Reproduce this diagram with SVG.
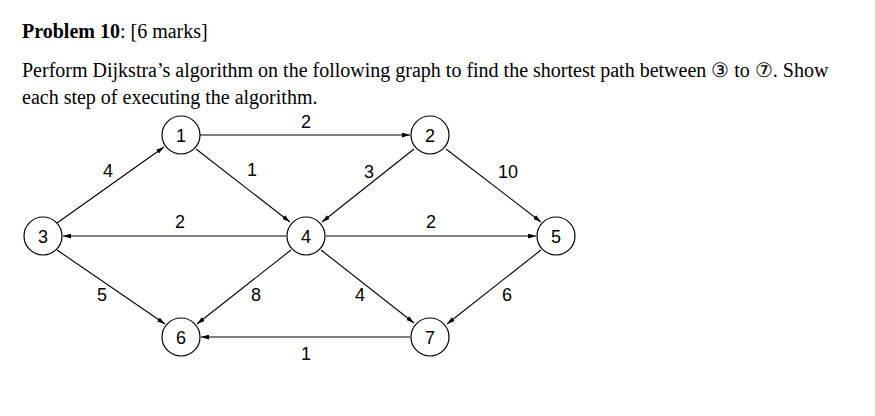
<svg xmlns="http://www.w3.org/2000/svg" width="875" height="416" viewBox="0 0 875 416">
<style>
.t{font-family:"Liberation Serif",serif;font-size:20px;fill:#000}
.n circle{fill:#fff;stroke:#000;stroke-width:1.2}
.n text,.w{font-family:"Liberation Sans",sans-serif;font-size:18px;fill:#000;text-anchor:middle}
.e line{stroke:#000;stroke-width:1.1;marker-end:url(#a)}
</style>
<defs><marker id="a" viewBox="0 0 10 6" refX="10" refY="3" markerWidth="8" markerHeight="5" orient="auto" markerUnits="userSpaceOnUse"><path d="M0,0L10,3L0,6z" fill="#000"/></marker></defs>
<rect width="875" height="416" fill="#fff"/>
<text class="t" x="22" y="38"><tspan font-weight="bold">Problem 10</tspan>: [6 marks]</text>
<text class="t" x="22" y="77">Perform Dijkstra’s algorithm on the following graph to find the shortest path between ③ to ⑦. Show</text>
<text class="t" x="22" y="104">each step of executing the algorithm.</text>
<g class="e" id="edges">
<line x1="57" y1="223" x2="164" y2="147"/>
<line x1="200" y1="135" x2="410" y2="135"/>
<line x1="196" y1="149" x2="290" y2="222"/>
<line x1="414" y1="149" x2="322" y2="222"/>
<line x1="446" y1="149" x2="541" y2="222"/>
<line x1="286" y1="236" x2="63" y2="236"/>
<line x1="326" y1="236" x2="536" y2="236"/>
<line x1="57" y1="250" x2="165" y2="324"/>
<line x1="291" y1="250" x2="197" y2="324"/>
<line x1="321" y1="250" x2="414" y2="323"/>
<line x1="541" y1="250" x2="447" y2="324"/>
<line x1="410" y1="337" x2="201" y2="337"/>
</g>
<text class="w" x="108" y="177">4</text>
<text class="w" x="306" y="128">2</text>
<text class="w" x="252" y="176">1</text>
<text class="w" x="369" y="178">3</text>
<text class="w" x="508" y="178">10</text>
<text class="w" x="180" y="228">2</text>
<text class="w" x="431" y="228">2</text>
<text class="w" x="102" y="301">5</text>
<text class="w" x="256" y="301">8</text>
<text class="w" x="360" y="301">4</text>
<text class="w" x="507" y="301">6</text>
<text class="w" x="306" y="360">1</text>
<g class="n" id="n1"><circle cx="181" cy="135" r="19"/><text x="181" y="142">1</text></g>
<g class="n" id="n2"><circle cx="430" cy="135" r="19"/><text x="430" y="142">2</text></g>
<g class="n" id="n3"><circle cx="43" cy="236" r="19"/><text x="43" y="243">3</text></g>
<g class="n" id="n4"><circle cx="306" cy="236" r="19"/><text x="306" y="243">4</text></g>
<g class="n" id="n5"><circle cx="556" cy="236" r="19"/><text x="556" y="243">5</text></g>
<g class="n" id="n6"><circle cx="181" cy="337" r="19"/><text x="181" y="344">6</text></g>
<g class="n" id="n7"><circle cx="430" cy="337" r="19"/><text x="430" y="344">7</text></g>
</svg>
